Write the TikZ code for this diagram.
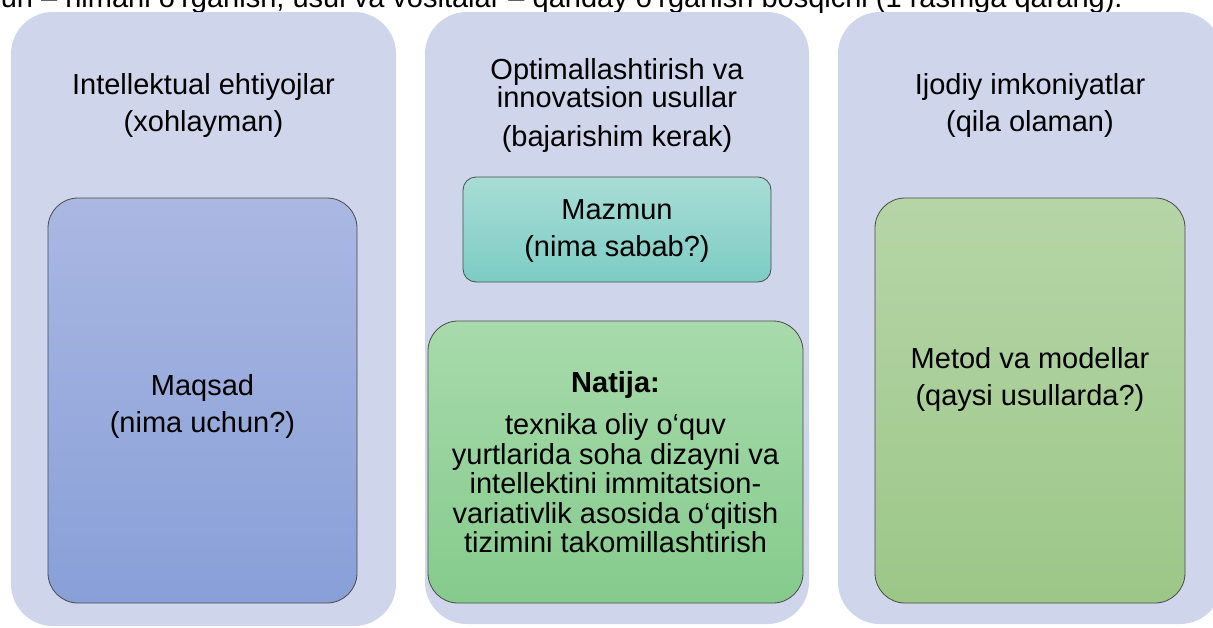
\documentclass[tikz,border=0pt]{standalone}
\usepackage{fontspec}
\setmainfont{Liberation Sans}
\definecolor{cont}{RGB}{207,213,234}
\definecolor{bluetop}{RGB}{170,184,226}
\definecolor{bluebot}{RGB}{136,159,216}
\definecolor{tealtop}{RGB}{168,221,214}
\definecolor{tealbot}{RGB}{124,204,196}
\definecolor{grntop}{RGB}{168,218,172}
\definecolor{grnbot}{RGB}{133,203,140}
\definecolor{olvtop}{RGB}{182,213,167}
\definecolor{olvbot}{RGB}{156,199,136}
\definecolor{edgegray}{RGB}{75,75,75}
\newcommand\mainfs{\fontsize{29}{37}\selectfont}
\newcommand\tightfs{\fontsize{29}{28}\selectfont}
\newcommand\bodyfs{\fontsize{29}{29.5}\selectfont}
\begin{document}
\begin{tikzpicture}[x=1pt,y=-1pt,
  container/.style={rectangle, fill=cont, draw=none, rounded corners=42pt, inner sep=0pt},
  inbox/.style={rectangle, draw=edgegray, line width=0.8pt, inner sep=0pt, align=center, font=\mainfs},
  txt/.style={align=center, inner sep=0pt, font=\mainfs}]
\useasboundingbox (0,0) rectangle (1213,627);
\clip (0,0) rectangle (1213,627);
% top (cut) text line
\node[anchor=base east, inner sep=0pt, font=\mainfs] (toptext) at (1123,7)
  {un – nimani o‘rganish, usul va vositalar – qanday o‘rganish bosqichi (1 rasmga qarang).};
% containers
\node[container, minimum width=385pt, minimum height=614pt] (lc) at (203.5,319) {};
\node[container, minimum width=384pt, minimum height=612pt] (mc) at (617,318) {};
\node[container, minimum width=384pt, minimum height=612pt] (rc) at (1030,318) {};
% headers
\node[txt] (lh) at (203.5,105) {Intellektual ehtiyojlar\\(xohlayman)};
\node[txt, font=\tightfs] (mh) at (617,105) {Optimallashtirish va\\innovatsion usullar\\[11pt](bajarishim kerak)};
\node[txt] (rh) at (1030,105) {Ijodiy imkoniyatlar\\(qila olaman)};
% inner boxes
\node[inbox, rounded corners=30pt, top color=bluetop, bottom color=bluebot,
      minimum width=309pt, minimum height=405pt] (maqsad) at (202.5,400.5) {};
\node[txt] (maqsadtxt) at ([yshift=-6pt]maqsad.center) {Maqsad\\(nima uchun?)};
\node[inbox, rounded corners=13pt, top color=tealtop, bottom color=tealbot,
      minimum width=308pt, minimum height=105pt] (mazmun) at (617,229.5) {};
\node[txt] (mazmuntxt) at ([yshift=-2pt]mazmun.center) {Mazmun\\(nima sabab?)};
\node[inbox, rounded corners=30pt, top color=grntop, bottom color=grnbot,
      minimum width=375pt, minimum height=282pt, font=\bodyfs] (natija) at (615.5,462)
      {\textbf{Natija:}\\[13pt]texnika oliy o‘quv\\yurtlarida soha dizayni va\\intellektini immitatsion-\\variativlik asosida o‘qitish\\tizimini takomillashtirish};
\node[inbox, rounded corners=30pt, top color=olvtop, bottom color=olvbot,
      minimum width=310pt, minimum height=405pt] (metod) at (1030,400.5) {};
\node[txt] (metodtxt) at ([yshift=21pt]metod.center) {Metod va modellar\\(qaysi usullarda?)};
\end{tikzpicture}
\end{document}
